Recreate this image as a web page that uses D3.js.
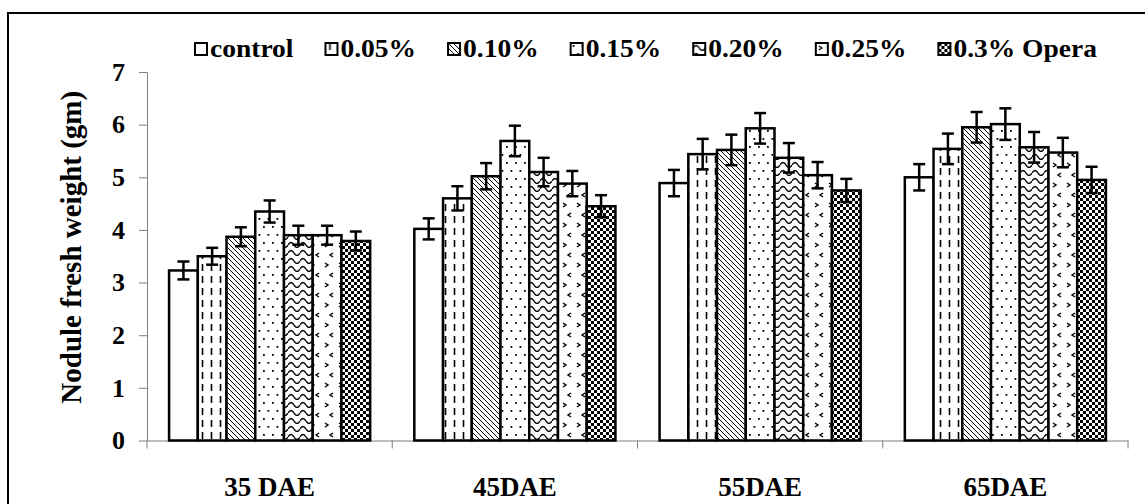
<!DOCTYPE html>
<html>
<head>
<meta charset="utf-8">
<script src="https://cdn.jsdelivr.net/npm/d3@7"></script>
<style>
  html, body { margin: 0; padding: 0; background: #fff; }
  svg { display: block; }
  text { font-family: "Liberation Serif", "Times New Roman", serif; font-weight: bold; fill: #000; }
</style>
</head>
<body>
<svg id="chart" width="1145" height="504"></svg>
<script>
// Sampling stages (days after emergence)
const categories = ["35 DAE", "45DAE", "55DAE", "65DAE"];
// Treatments
const series = ["control", "0.05%", "0.10%", "0.15%", "0.20%", "0.25%", "0.3% Opera"];
// Mean nodule fresh weight (gm), one list per treatment across the stages
const controlVals = [3.23, 4.02, 4.89, 5.00];
const p005Vals    = [3.50, 4.60, 5.44, 5.54];
const p010Vals    = [3.87, 5.02, 5.52, 5.95];
const p015Vals    = [4.35, 5.69, 5.93, 6.01];
const p020Vals    = [3.90, 5.10, 5.37, 5.57];
const p025Vals    = [3.90, 4.88, 5.04, 5.47];
const operaVals   = [3.79, 4.45, 4.75, 4.95];
// Standard errors, same order
const controlErr = [0.17, 0.20, 0.25, 0.25];
const p005Err    = [0.16, 0.23, 0.29, 0.29];
const p010Err    = [0.18, 0.25, 0.29, 0.29];
const p015Err    = [0.21, 0.29, 0.29, 0.30];
const p020Err    = [0.18, 0.27, 0.28, 0.29];
const p025Err    = [0.18, 0.24, 0.25, 0.28];
const operaErr   = [0.18, 0.21, 0.22, 0.25];
// Y axis ticks
const yTicks = [0, 1, 2, 3, 4, 5, 6, 7];
const yTitle = "Nodule fresh weight (gm)";

const valueLists = [controlVals, p005Vals, p010Vals, p015Vals, p020Vals, p025Vals, operaVals];
const errLists = [controlErr, p005Err, p010Err, p015Err, p020Err, p025Err, operaErr];
const patternIds = ["pCtrl", "p05", "p10", "p15", "p20", "p25", "pOpera"];

const svg = d3.select("#chart");

// ---------- fill patterns ----------
const defs = svg.append("defs");
function makePattern(id, w, h, draw) {
  const p = defs.append("pattern").attr("id", id)
    .attr("patternUnits", "userSpaceOnUse").attr("width", w).attr("height", h);
  p.append("rect").attr("width", w).attr("height", h).attr("fill", "#fff");
  draw(p);
}
makePattern("pCtrl", 8, 8, () => {});
makePattern("p05", 9, 12, p => {
  p.append("line").attr("x1", 4.5).attr("x2", 4.5).attr("y1", 0).attr("y2", 7)
    .attr("stroke", "#000").attr("stroke-width", 1.6);
});
makePattern("p10", 5, 5, p => {
  p.append("path").attr("d", "M0,0 L5,5 M-1,4 L1,6 M4,-1 L6,1")
    .attr("stroke", "#000").attr("stroke-width", 1);
});
makePattern("p15", 9, 16, p => {
  p.append("rect").attr("x", 2).attr("y", 2).attr("width", 1.8).attr("height", 1.8).attr("fill", "#000");
  p.append("rect").attr("x", 6.5).attr("y", 10).attr("width", 1.8).attr("height", 1.8).attr("fill", "#000");
});
makePattern("p20", 12, 8, p => {
  p.append("path").attr("d", "M0,5 Q3,0 6,5 T12,5")
    .attr("fill", "none").attr("stroke", "#000").attr("stroke-width", 1.4);
});
makePattern("p25", 14, 20, p => {
  p.append("path").attr("d", "M3,3 L6,5 L3,7 M11,13 L8,15 L11,17")
    .attr("fill", "none").attr("stroke", "#000").attr("stroke-width", 1.4);
});
makePattern("pOpera", 6, 6, p => {
  p.append("rect").attr("x", 0).attr("y", 0).attr("width", 3).attr("height", 3).attr("fill", "#000");
  p.append("rect").attr("x", 3).attr("y", 3).attr("width", 3).attr("height", 3).attr("fill", "#000");
});

// ---------- frame ----------
svg.append("rect").attr("width", 1145).attr("height", 504).attr("fill", "#fff");
svg.append("rect").attr("x", 8).attr("y", 13).attr("width", 1160).attr("height", 520)
  .attr("fill", "none").attr("stroke", "#000").attr("stroke-width", 2);

// ---------- scales ----------
const y = d3.scaleLinear().domain([0, 7]).range([440.5, 72]);
const x0 = d3.scaleBand().domain(categories).range([147, 1128])
  .paddingInner(0.18).paddingOuter(0.09);
const x1 = d3.scaleBand().domain(series).range([0, x0.bandwidth()]);

// ---------- y axis ----------
const yAxis = svg.append("g").attr("transform", "translate(147,0)")
  .call(d3.axisLeft(y).tickValues(yTicks).tickFormat(d3.format("d")).tickSize(8).tickPadding(14).tickSizeOuter(0));
yAxis.select(".domain").attr("stroke", "#7f7f7f");
yAxis.selectAll(".tick line").attr("stroke", "#7f7f7f");
yAxis.selectAll(".tick text").style("font-size", "26px");

svg.append("text")
  .attr("transform", `translate(81,${(y(0) + y(7)) / 2 - 9}) rotate(-90)`)
  .attr("text-anchor", "middle")
  .style("font-size", "29px")
  .text(yTitle);

// ---------- x axis ----------
const xAxis = svg.append("g").attr("transform", `translate(0,${y(0)})`)
  .call(d3.axisBottom(x0).tickSize(0).tickPadding(36).tickSizeOuter(0));
xAxis.select(".domain").attr("stroke", "#7f7f7f");
xAxis.selectAll(".tick text").style("font-size", "27px");
const bounds = categories.map(c => x0(c) - x0.step() * x0.paddingInner() / 2);
bounds.push(x0.range()[1]);
bounds[0] = x0.range()[0];
svg.append("g").selectAll("line").data(bounds).join("line")
  .attr("x1", d => d).attr("x2", d => d)
  .attr("y1", y(0)).attr("y2", y(0) + 8)
  .attr("stroke", "#7f7f7f");

// ---------- bars ----------
const rows = [];
series.forEach((s, si) => {
  categories.forEach((c, ci) => {
    rows.push({ s, c, si, v: valueLists[si][ci], e: errLists[si][ci] });
  });
});

const bars = svg.append("g");
bars.selectAll("rect").data(rows).join("rect")
  .attr("x", d => x0(d.c) + x1(d.s))
  .attr("y", d => y(d.v))
  .attr("width", x1.bandwidth())
  .attr("height", d => y(0) - y(d.v))
  .attr("fill", d => `url(#${patternIds[d.si]})`)
  .attr("stroke", "#000")
  .attr("stroke-width", 2.5);

// ---------- error bars ----------
const capHalf = 6;
const eb = svg.append("g").attr("stroke", "#000").attr("stroke-width", 2.5);
rows.forEach(d => {
  const cx = x0(d.c) + x1(d.s) + x1.bandwidth() / 2;
  eb.append("line").attr("x1", cx).attr("x2", cx).attr("y1", y(d.v + d.e)).attr("y2", y(d.v - d.e));
  eb.append("line").attr("x1", cx - capHalf).attr("x2", cx + capHalf).attr("y1", y(d.v + d.e)).attr("y2", y(d.v + d.e));
  eb.append("line").attr("x1", cx - capHalf).attr("x2", cx + capHalf).attr("y1", y(d.v - d.e)).attr("y2", y(d.v - d.e));
});

// ---------- legend ----------
const legend = svg.append("g");
const stretch = 1.1;
let lx = 195;
series.forEach((s, si) => {
  const g = legend.append("g").attr("transform", `translate(${lx},43)`);
  g.append("rect").attr("width", 12).attr("height", 12)
    .attr("fill", `url(#${patternIds[si]})`).attr("stroke", "#000").attr("stroke-width", 2);
  const t = g.append("text").attr("transform", `translate(15,13.5) scale(${stretch},1)`)
    .style("font-size", "25px").text(s);
  lx += 15 + t.node().getComputedTextLength() * stretch + 32;
});
</script>
</body>
</html>
